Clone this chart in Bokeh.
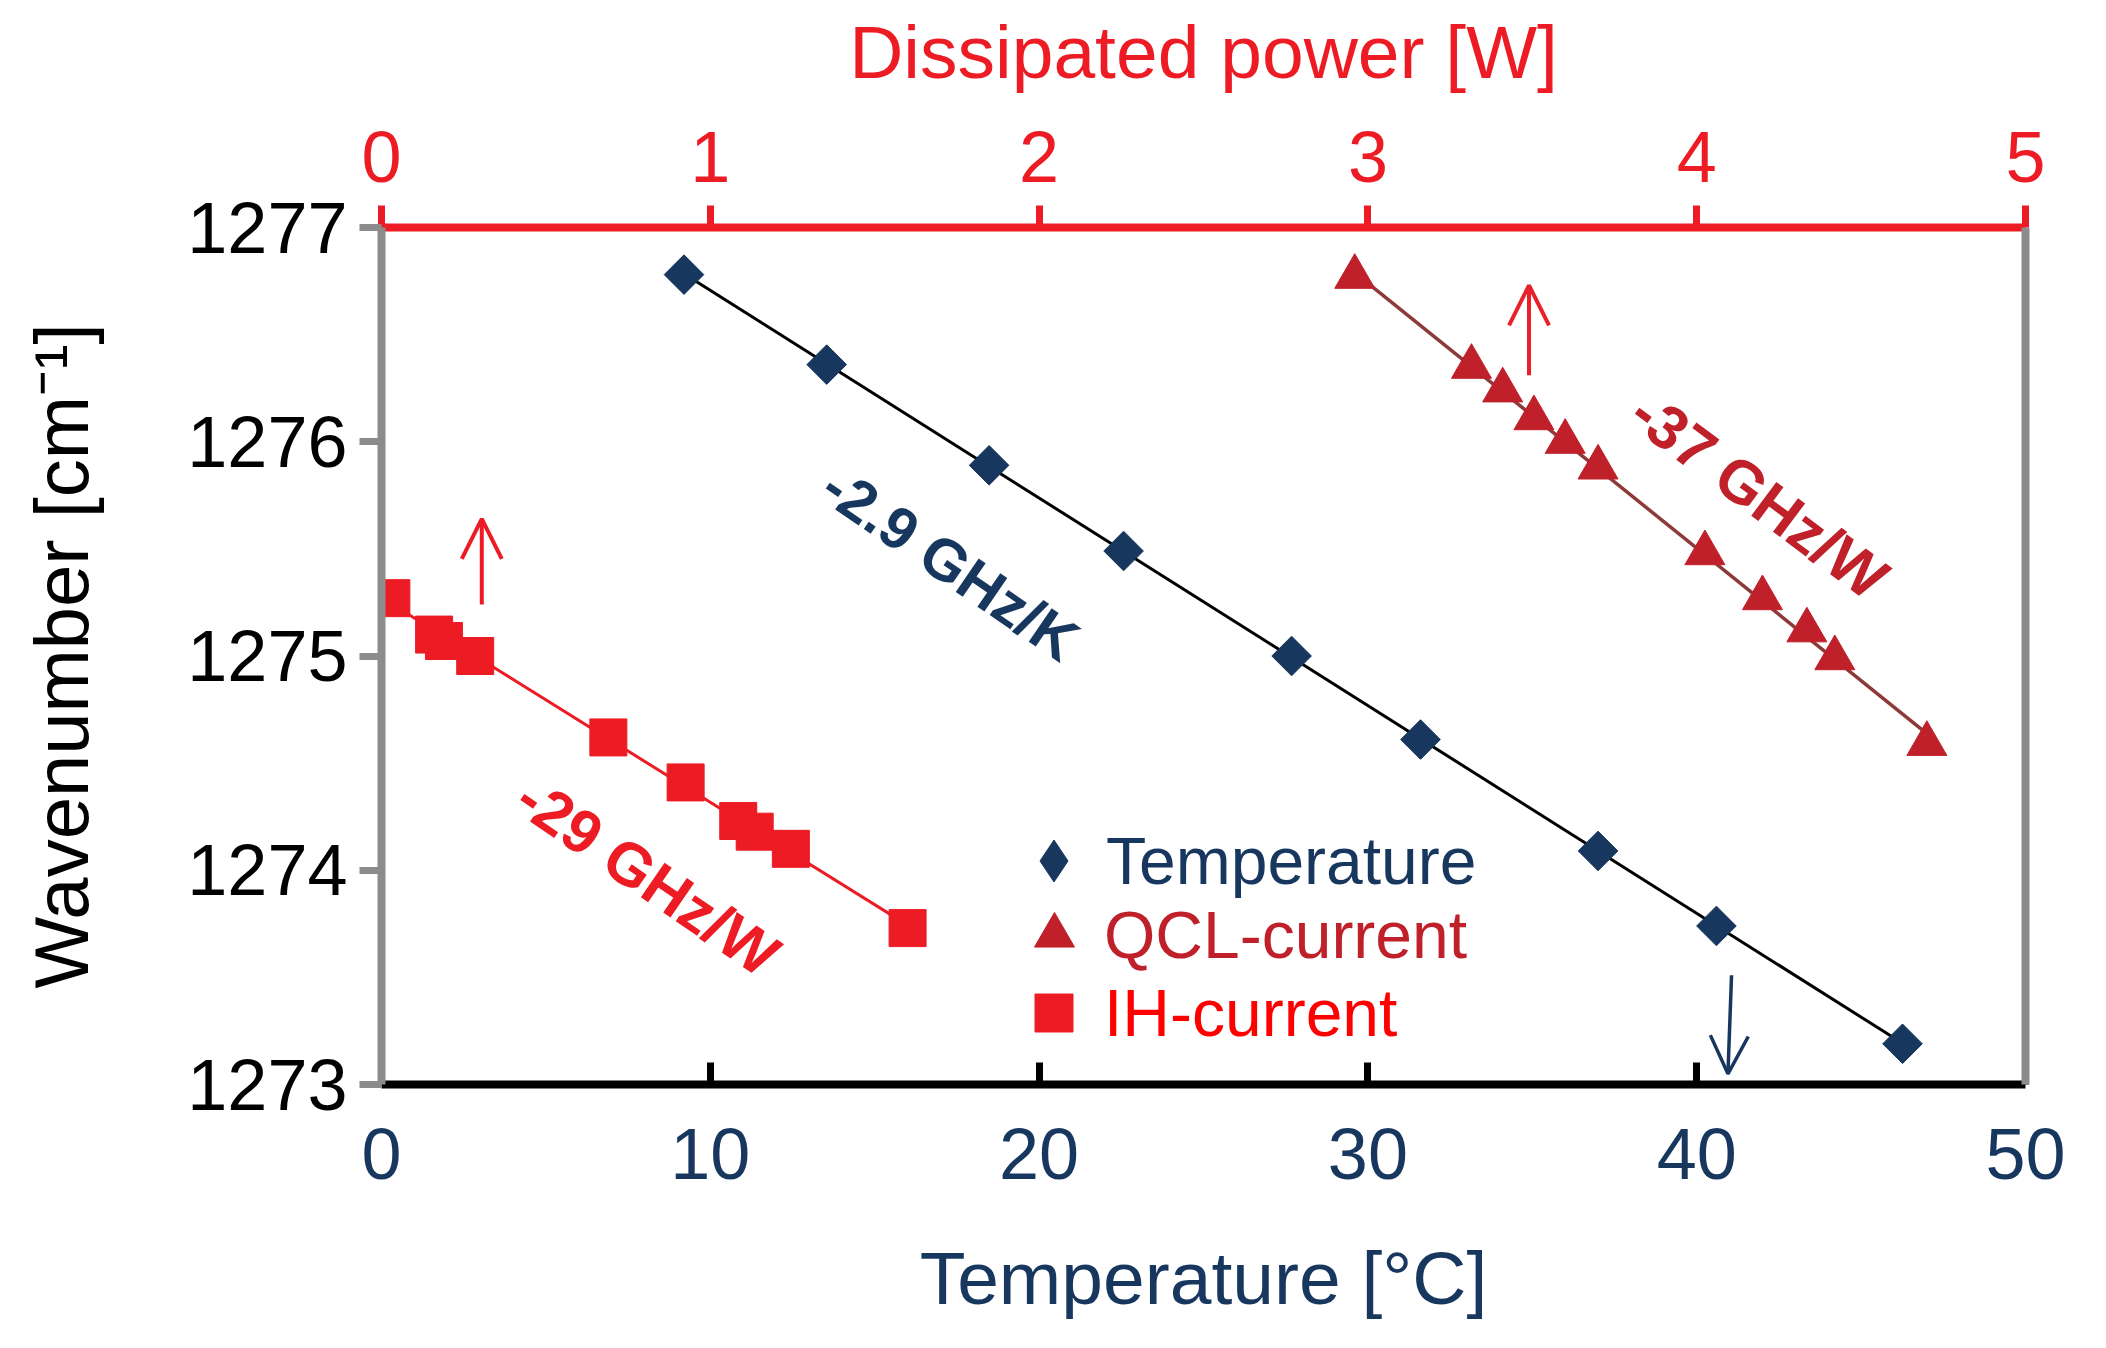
import numpy as np
from bokeh.plotting import figure
from bokeh.models import (Range1d, LinearAxis, SingleIntervalTicker, FixedTicker,
                          Arrow, OpenHead, Legend, LegendItem)
from bokeh.core.properties import value
from bokeh.embed import file_html
from bokeh.resources import INLINE

# ---------------- data ----------------
temp_c = [9.2, 13.54, 18.48, 22.57, 27.68, 31.6, 37.0, 40.6, 46.26]
temp_wn = [1276.78, 1276.36, 1275.89, 1275.49, 1275.0, 1274.61, 1274.09, 1273.74, 1273.19]

qcl_w = [2.96, 3.315, 3.41, 3.505, 3.60, 3.70, 4.025, 4.20, 4.335, 4.42, 4.70]
qcl_wn = [1276.77, 1276.35, 1276.24, 1276.11, 1276.0, 1275.88, 1275.48, 1275.27, 1275.12, 1274.99, 1274.59]

ih_w = [0.03, 0.16, 0.19, 0.285, 0.69, 0.925, 1.085, 1.135, 1.245, 1.6]
ih_wn = [1275.27, 1275.10, 1275.07, 1275.0, 1274.62, 1274.41, 1274.23, 1274.18, 1274.10, 1273.73]

slope_labels = ["-2.9 GHz/K", "-37 GHz/W", "-29 GHz/W"]
slope_x = [17.3, 4.19, 0.81]          # first in degC, others in W
slope_y = [1275.43, 1275.75, 1273.97]

arrow_ih = dict(x0=0.305, y0=1275.24, x1=0.305, y1=1275.64)
arrow_qcl = dict(x0=3.49, y0=1276.31, x1=3.49, y1=1276.73)
arrow_temp = dict(x0=41.06, y0=1273.51, x1=40.95, y1=1273.05)

x_label = "Temperature [°C]"
top_label = "Dissipated power [W]"
y_label = "Wavenumber [cm⁻¹]"

# ---------------- style ----------------
FONT = "Liberation Sans"
NAVY = "#17375E"
QCL = "#C0202A"
QCL_LINE = "#8C3A3A"
RED = "#ED1C24"
GRAY = "#8C8C8C"

p = figure(width=2088, height=1330, output_backend="svg", toolbar_location=None,
           x_range=Range1d(0, 50), y_range=Range1d(1273, 1277),
           min_border_left=381, min_border_right=63, min_border_top=227, min_border_bottom=246)
p.extra_x_ranges = {"power": Range1d(0, 5)}
p.outline_line_color = None
p.grid.visible = False
p.background_fill_color = "white"
p.border_fill_color = "white"

# bottom axis
xa = p.xaxis[0]
xa.ticker = SingleIntervalTicker(interval=10, num_minor_ticks=0)
xa.axis_line_color = "black"
xa.axis_line_width = 8
xa.major_tick_in = 22
xa.major_tick_out = 0
xa.major_tick_line_color = "black"
xa.major_tick_line_width = 7
xa.minor_tick_line_color = None
xa.major_label_text_font = FONT
xa.major_label_text_font_size = "72px"
xa.major_label_text_color = NAVY
xa.major_label_standoff = 44
xa.axis_label = x_label
xa.axis_label_text_font = FONT
xa.axis_label_text_font_size = "75px"
xa.axis_label_text_font_style = "normal"
xa.axis_label_text_color = NAVY
xa.axis_label_standoff = 54

# left axis
ya = p.yaxis[0]
ya.ticker = SingleIntervalTicker(interval=1, num_minor_ticks=0)
ya.axis_line_color = GRAY
ya.axis_line_width = 8
ya.major_tick_in = 0
ya.major_tick_out = 22
ya.major_tick_line_color = GRAY
ya.major_tick_line_width = 7
ya.minor_tick_line_color = None
ya.major_label_text_font = FONT
ya.major_label_text_font_size = "72px"
ya.major_label_text_color = "black"
ya.major_label_standoff = 12
ya.axis_label = y_label
ya.axis_label_text_font = FONT
ya.axis_label_text_font_size = "76px"
ya.axis_label_text_font_style = "normal"
ya.axis_label_text_color = "black"
ya.axis_label_standoff = 80

# top axis (power)
ta = LinearAxis(x_range_name="power", ticker=SingleIntervalTicker(interval=1, num_minor_ticks=0))
ta.axis_line_color = RED
ta.axis_line_width = 8
ta.major_tick_in = 0
ta.major_tick_out = 22
ta.major_tick_line_color = RED
ta.major_tick_line_width = 7
ta.minor_tick_line_color = None
ta.major_label_text_font = FONT
ta.major_label_text_font_size = "72px"
ta.major_label_text_color = RED
ta.major_label_standoff = 24
ta.axis_label = top_label
ta.axis_label_text_font = FONT
ta.axis_label_text_font_size = "75px"
ta.axis_label_text_font_style = "normal"
ta.axis_label_text_color = RED
ta.axis_label_standoff = 35
p.add_layout(ta, "above")

# right axis (plain gray line)
ra = LinearAxis(ticker=FixedTicker(ticks=[]))
ra.axis_line_color = GRAY
ra.axis_line_width = 8
ra.major_tick_line_color = None
ra.minor_tick_line_color = None
ra.major_label_text_font_size = "1px"
ra.major_label_text_alpha = 0
p.add_layout(ra, "right")

# ---------------- fit lines ----------------
def fit_ends(xs, ys):
    k, b = np.polyfit(xs, ys, 1)
    x_end = [min(xs), max(xs)]
    return x_end, [k * v + b for v in x_end]

tx, ty = fit_ends(temp_c, temp_wn)
p.line(tx, ty, line_color="black", line_width=3)
qx, qy = fit_ends(qcl_w, qcl_wn)
p.line(qx, qy, line_color=QCL_LINE, line_width=3.5, x_range_name="power")
ix, iy = fit_ends(ih_w, ih_wn)
p.line(ix, iy, line_color=RED, line_width=3, x_range_name="power")

# ---------------- markers ----------------
r_temp = p.scatter(temp_c, temp_wn, marker="square", size=28, angle=np.pi / 4,
                   fill_color=NAVY, line_color=NAVY)
# native diamond lies inside the rotated square; used as the legend key
r_temp_leg = p.scatter(temp_c, temp_wn, marker="diamond", size=38,
                       fill_color=NAVY, line_color=NAVY)
r_qcl = p.scatter(qcl_w, qcl_wn, marker="triangle", size=40, fill_color=QCL,
                  line_color=QCL, x_range_name="power")
r_ih = p.scatter(ih_w, ih_wn, marker="square", size=37, fill_color=RED,
                 line_color=RED, x_range_name="power")

# ---------------- slope labels ----------------
ang = [-0.60, -0.64, -0.60]
p.text(x=[slope_x[0]], y=[slope_y[0]], text=[slope_labels[0]], angle=ang[0],
       text_font=value(FONT), text_font_style="bold", text_font_size="59px",
       text_color=NAVY, text_align="center", text_baseline="middle")
p.text(x=[slope_x[1]], y=[slope_y[1]], text=[slope_labels[1]], angle=ang[1],
       text_font=value(FONT), text_font_style="bold", text_font_size="61px",
       text_color=QCL, text_align="center", text_baseline="middle", x_range_name="power")
p.text(x=[slope_x[2]], y=[slope_y[2]], text=[slope_labels[2]], angle=ang[2],
       text_font=value(FONT), text_font_style="bold", text_font_size="61px",
       text_color=RED, text_align="center", text_baseline="middle", x_range_name="power")

# ---------------- arrows ----------------
def add_arrow(a, color, width, head, rng=None):
    kw = dict(x_range_name=rng) if rng else {}
    p.add_layout(Arrow(end=OpenHead(size=head, line_color=color, line_width=width),
                       x_start=a["x0"], y_start=a["y0"], x_end=a["x1"], y_end=a["y1"],
                       line_color=color, line_width=width, **kw))

add_arrow(arrow_ih, RED, 4, 40, "power")
add_arrow(arrow_qcl, "#E8202A", 4, 40, "power")
add_arrow(arrow_temp, NAVY, 3.5, 38)

# ---------------- legend (one per entry for individual text colours) ----------------
def add_legend(label, rend, color, box, loc, standoff):
    leg = Legend(items=[LegendItem(label=label, renderers=[rend])], location=loc,
                 glyph_width=box, glyph_height=box, label_standoff=standoff,
                 label_text_font=FONT, label_text_font_size="66px", label_text_color=color,
                 padding=0, margin=0, spacing=0, border_line_color=None,
                 background_fill_alpha=0)
    p.add_layout(leg)

add_legend("Temperature", r_temp_leg, NAVY, 105, (620, 171), -5)
add_legend("QCL-current", r_qcl, QCL, 100, (623, 99), 0)
add_legend("IH-current", r_ih, "#FF0000", 95, (625, 24), 3)

open("out.html", "w").write(file_html(p, INLINE))
